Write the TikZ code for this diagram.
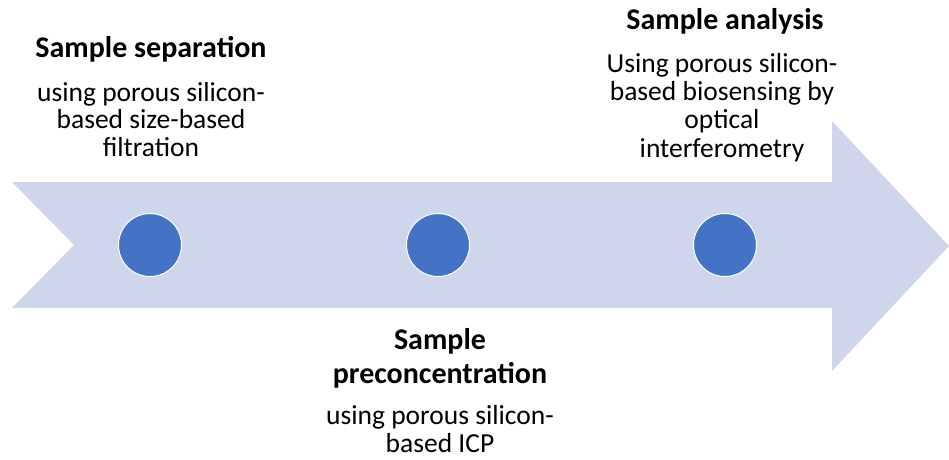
\documentclass[tikz,border=0pt]{standalone}
\usepackage{fontspec}
\setmainfont{Carlito}
\usetikzlibrary{positioning}
\definecolor{arrowfill}{RGB}{207,213,234}
\definecolor{dotblue}{RGB}{68,114,196}
\tikzset{
  stepdot/.style={circle,fill=dotblue,draw=white,line width=1pt,minimum size=63pt,inner sep=0pt},
  steptitle/.style={font=\fontsize{30}{34}\selectfont\bfseries,align=center,inner sep=0pt,anchor=base},
  stepnote/.style={font=\fontsize{27.5}{27.5}\selectfont,align=center,inner sep=0pt,anchor=base},
}
\begin{document}
\begin{tikzpicture}[x=1pt,y=1pt,yscale=-1,xscale=1]
  \useasboundingbox (0,0) rectangle (949,459);
  % timeline arrow
  \fill[arrowfill] (12,182) -- (832,182) -- (832,121) -- (949,246) -- (832,371)
        -- (832,308) -- (12,308) -- (74,245) -- cycle;
  % stations
  \node[stepdot] (sep)  at (150,245) {};
  \node[stepdot] (pre)  at (438,245) {};
  \node[stepdot] (ana)  at (725,245) {};
  % labels (base = last line)
  \node[steptitle] (septitle) at (151,57)  {Sample separation};
  \node[stepnote]  (sepnote)  at (151,156) {using porous silicon-\\based size-based\\filtration};
  \node[steptitle] (pretitle) at (440,383) {Sample\\preconcentration};
  \node[stepnote]  (prenote)  at (440,452) {using porous silicon-\\based ICP};
  \node[steptitle] (anatitle) at (725,29)  {Sample analysis};
  \node[stepnote,font=\fontsize{27.5}{28.3}\selectfont] (ananote) at (722,157)
        {Using porous silicon-\\based biosensing by\\optical\\interferometry};
\end{tikzpicture}
\end{document}
